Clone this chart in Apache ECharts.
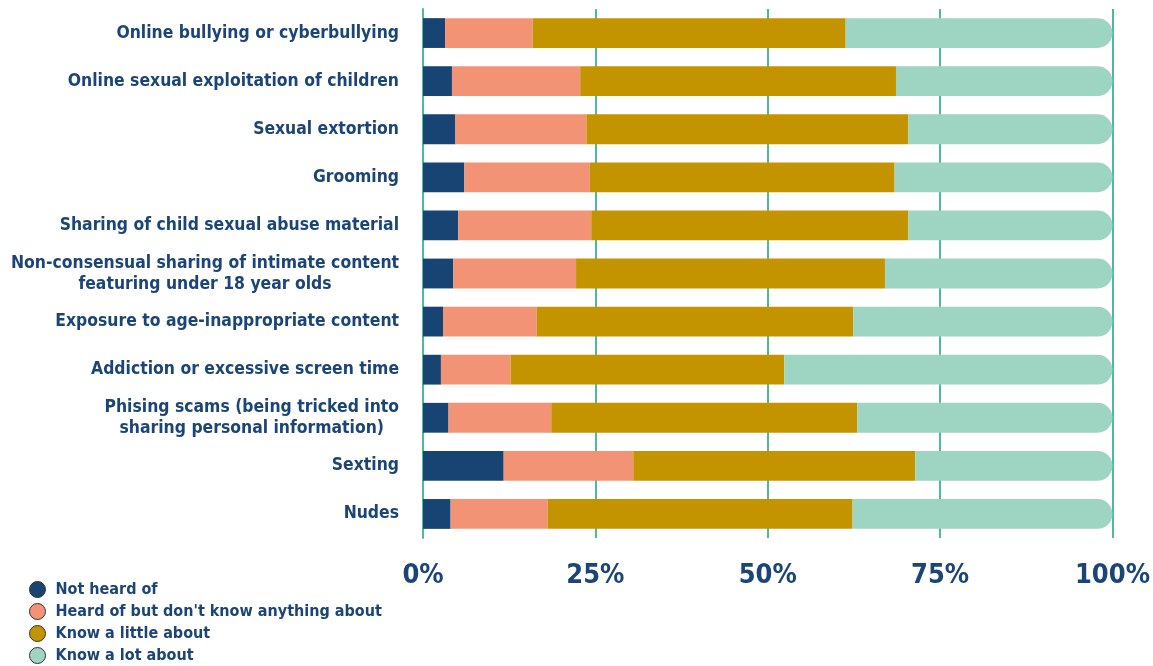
<!DOCTYPE html>
<html>
<head>
<meta charset="utf-8">
<script src="https://cdn.jsdelivr.net/npm/echarts@6/dist/echarts.min.js"></script>
<style>
  html, body { margin: 0; padding: 0; background: #ffffff; }
  #chart { width: 1153px; height: 666px; }
</style>
</head>
<body>
<div id="chart"></div>
<script>
// Awareness of online risks, share of respondents (%), top row first
const categories = [
  'Online bullying or cyberbullying',
  'Online sexual exploitation of children',
  'Sexual extortion',
  'Grooming',
  'Sharing of child sexual abuse material',
  'Non-consensual sharing of intimate content\nfeaturing under 18 year olds',
  'Exposure to age-inappropriate content',
  'Addiction or excessive screen time',
  'Phising scams (being tricked into\nsharing personal information)',
  'Sexting',
  'Nudes'
];
const seriesNames = [
  'Not heard of',
  "Heard of but don't know anything about",
  'Know a little about',
  'Know a lot about'
];
const notHeardOf     = [3.2, 4.2, 4.7, 6.0, 5.1, 4.4, 2.9, 2.6, 3.7, 11.7, 4.0];
const heardOfOnly    = [12.7, 18.6, 19.0, 18.2, 19.3, 17.8, 13.6, 10.1, 14.9, 18.8, 14.1];
const knowALittle    = [45.4, 45.8, 46.7, 44.2, 46.0, 44.8, 45.9, 39.7, 44.4, 40.9, 44.2];
const knowALot       = [38.7, 31.4, 29.6, 31.6, 29.6, 33.0, 37.6, 47.6, 37.0, 28.6, 37.7];
const xTicks = [0, 25, 50, 75, 100];

const colors = ['#174472', '#f29375', '#c49300', '#9dd5c2'];
const textColor = '#1c4577';
const gridColor = '#4dbb9b';
const labelFont = '"DejaVu Sans Condensed", "DejaVu Sans", sans-serif';

const chart = echarts.init(document.getElementById('chart'), null, { renderer: 'canvas' });

const valueSets = [notHeardOf, heardOfOnly, knowALittle, knowALot];
const series = seriesNames.map((name, i) => ({
  name: name,
  type: 'bar',
  stack: 'total',
  barWidth: '62%',
  data: valueSets[i],
  itemStyle: {
    color: colors[i],
    borderRadius: i === 3 ? [0, 15, 15, 0] : 0
  },
  emphasis: { disabled: true }
}));

chart.setOption({
  animation: false,
  backgroundColor: '#ffffff',
  grid: { left: 423, right: 38, top: 9, bottom: 128, containLabel: false },
  xAxis: {
    type: 'value',
    min: 0,
    max: 100,
    interval: 25,
    axisLine: { show: false },
    axisTick: { show: false },
    splitLine: { show: true, lineStyle: { color: gridColor, width: 2 } },
    axisLabel: {
      margin: 24,
      color: textColor,
      fontFamily: labelFont,
      fontWeight: 'bold',
      fontSize: 27,
      formatter: v => (xTicks.indexOf(v) >= 0 ? v + '%' : '')
    }
  },
  yAxis: {
    type: 'category',
    inverse: true,
    data: categories,
    axisLine: { show: true, lineStyle: { color: gridColor, width: 2 } },
    axisTick: { show: false },
    axisLabel: {
      margin: 24,
      color: textColor,
      fontFamily: labelFont,
      fontWeight: 'bold',
      fontSize: 17.4,
      lineHeight: 21,
      formatter: v => v.split('\n').map(s => '{c|' + s + '}').join('\n'),
      rich: {
        c: {
          align: 'center',
          color: textColor,
          fontFamily: labelFont,
          fontWeight: 'bold',
          fontSize: 17.4,
          lineHeight: 21
        }
      }
    }
  },
  legend: {
    orient: 'vertical',
    left: 29,
    top: 581,
    padding: 0,
    height: 200,
    itemGap: 5,
    itemWidth: 16,
    itemHeight: 16,
    icon: 'circle',
    data: seriesNames,
    itemStyle: { borderColor: '#333333', borderWidth: 1 },
    textStyle: {
      color: textColor,
      fontFamily: labelFont,
      fontWeight: 'bold',
      fontSize: 16,
      lineHeight: 16,
      padding: [0, 0, 0, 5]
    }
  },
  series: series
});
</script>
</body>
</html>
